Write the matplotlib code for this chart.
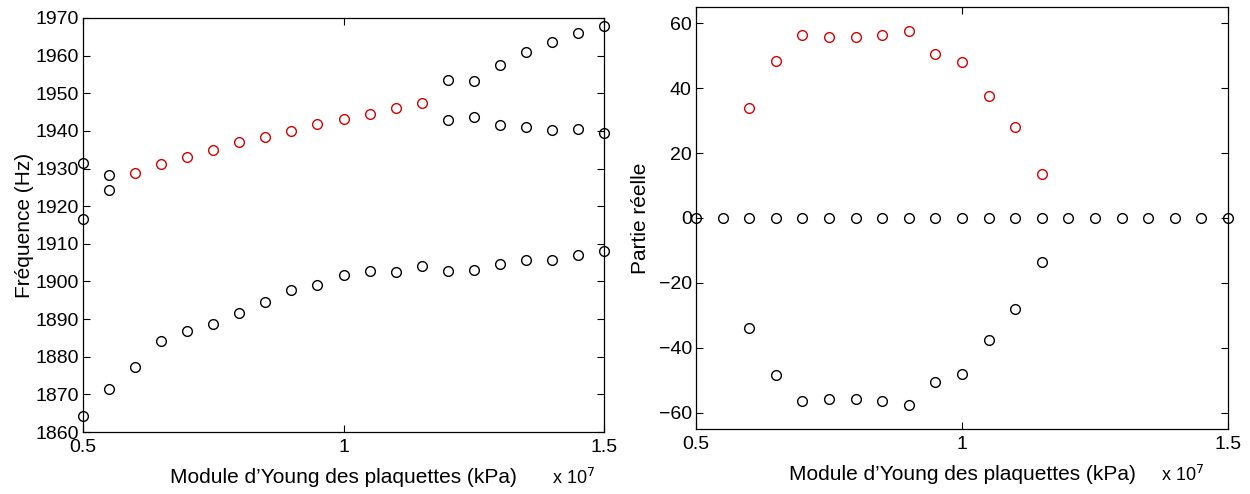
import numpy as np
import matplotlib
matplotlib.use("Agg")
import matplotlib.pyplot as plt

plt.rcParams['font.family'] = ['Liberation Sans', 'DejaVu Sans']

# module d'Young (x 1e7 kPa)
E = [0.5, 0.55, 0.6, 0.65, 0.7, 0.75, 0.8, 0.85, 0.9, 0.95, 1.0,
     1.05, 1.1, 1.15, 1.2, 1.25, 1.3, 1.35, 1.4, 1.45, 1.5]

# frequences (Hz)
freq_low = [1864.3, 1871.4, 1877.3, 1884.2, 1886.8, 1888.6, 1891.6, 1894.6, 1897.6, 1899.0, 1901.8,
            1902.7, 1902.5, 1904.0, 1902.9, 1903.1, 1904.6, 1905.6, 1905.8, 1907.0, 1908.0]
E_split_a = [0.5, 0.55]
freq_a1 = [1931.5, 1928.3]
freq_a2 = [1916.7, 1924.4]
E_red = [0.6, 0.65, 0.7, 0.75, 0.8, 0.85, 0.9, 0.95, 1.0, 1.05, 1.1, 1.15]
freq_red = [1928.8, 1931.2, 1933.0, 1935.0, 1937.0, 1938.5, 1940.1, 1941.8, 1943.1, 1944.4, 1946.0, 1947.3]
E_split_b = [1.2, 1.25, 1.3, 1.35, 1.4, 1.45, 1.5]
freq_b1 = [1953.5, 1953.2, 1957.6, 1961.0, 1963.5, 1966.0, 1967.9]
freq_b2 = [1943.0, 1943.7, 1941.6, 1941.0, 1940.3, 1940.5, 1939.5]

# partie reelle
re_zero = [0.0] * len(E)
re_pos = [33.8, 48.5, 56.5, 55.7, 55.7, 56.5, 57.7, 50.5, 48.0, 37.5, 28.1, 13.7]
re_neg = [-v for v in re_pos]

RED = '#d40000'
mk = dict(marker='o', linestyle='none', markersize=7, markerfacecolor='none',
          markeredgewidth=1.0, clip_on=False)

fig = plt.figure(figsize=(12.5, 4.94), dpi=100)
ax1 = fig.add_axes([0.0664, 0.1255, 0.4168, 0.8381])
ax2 = fig.add_axes([0.5568, 0.1316, 0.4256, 0.8543])

x = np.array(E) * 1e7
ax1.plot(x, freq_low, color='black', **mk)
ax1.plot(np.array(E_split_a) * 1e7, freq_a1, color='black', **mk)
ax1.plot(np.array(E_split_a) * 1e7, freq_a2, color='black', **mk)
ax1.plot(np.array(E_red) * 1e7, freq_red, color=RED, markeredgecolor=RED, **mk)
ax1.plot(np.array(E_split_b) * 1e7, freq_b1, color='black', **mk)
ax1.plot(np.array(E_split_b) * 1e7, freq_b2, color='black', **mk)
ax1.set_ylim(1860, 1970)
ax1.set_yticks(np.arange(1860, 1971, 10))
ax1.set_ylabel('Fréquence (Hz)', fontsize=15, labelpad=1)

ax2.plot(x, re_zero, color='black', **mk)
ax2.plot(np.array(E_red) * 1e7, re_pos, color=RED, markeredgecolor=RED, **mk)
ax2.plot(np.array(E_red) * 1e7, re_neg, color='black', **mk)
ax2.set_ylim(-65, 65)
ax2.set_yticks(np.arange(-60, 61, 20))
ax2.set_yticklabels(['\u221260', '\u221240', '\u221220', '0', '20', '40', '60'])
ax2.set_ylabel('Partie réelle', fontsize=15, labelpad=6)

for ax, xoff in ((ax1, 0.983), (ax2, 0.955)):
    ax.set_xlim(0.5e7, 1.5e7)
    ax.set_xticks([0.5e7, 1.0e7, 1.5e7])
    ax.set_xticklabels(['0.5', '1', '1.5'])
    ax.tick_params(axis='y', pad=3)
    ax.tick_params(direction='in', top=True, right=True, length=5, width=0.8,
                   labelsize=14)
    ax.tick_params(axis='x', pad=5)
    for s in ax.spines.values():
        s.set_linewidth(0.9)
    ax.set_xlabel('Module d\u2019Young des plaquettes (kPa)', fontsize=15, labelpad=9)
    ax.text(xoff, -0.11, r'x 10$^{7}$', transform=ax.transAxes, ha='right', va='center',
            fontsize=13)

fig.savefig('out.png', dpi=100)
